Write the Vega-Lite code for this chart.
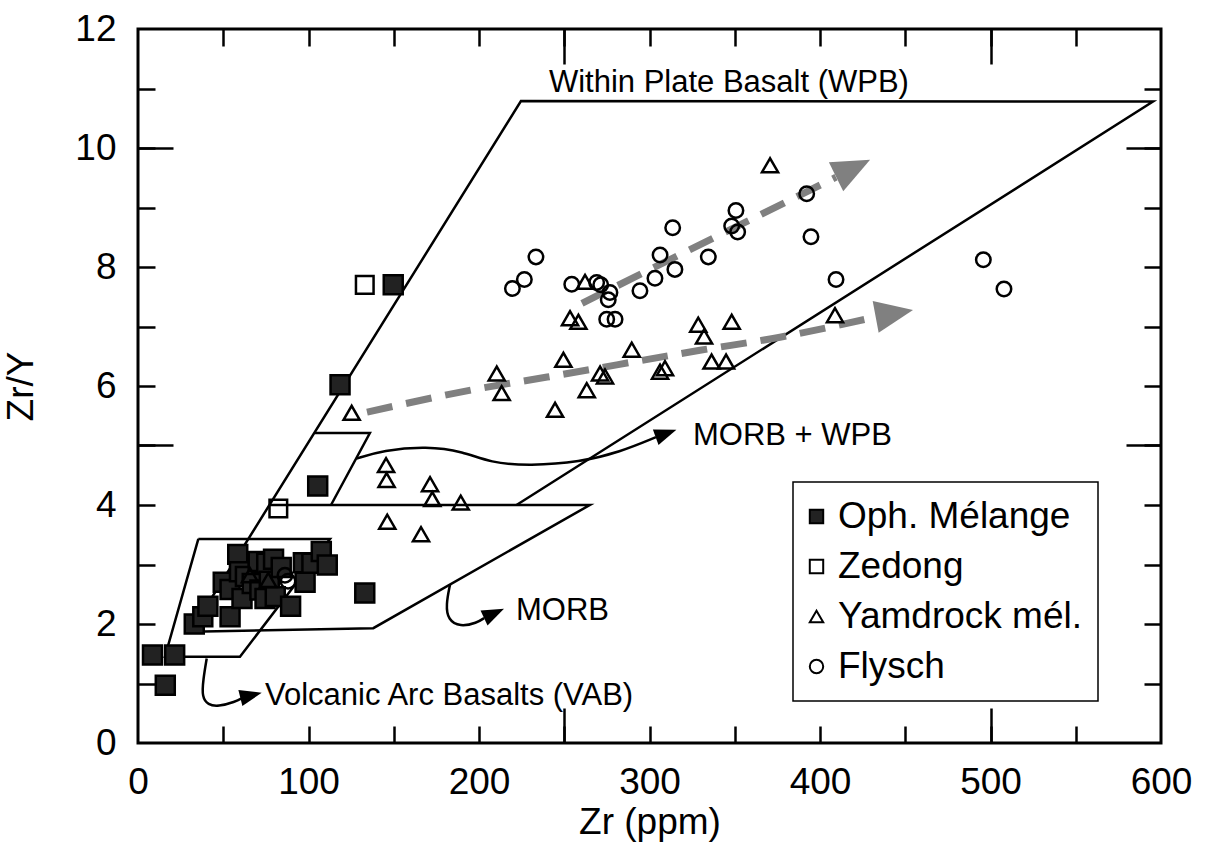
{
  "$schema": "https://vega.github.io/schema/vega-lite/v6.json",
  "width": 1023,
  "height": 714,
  "autosize": {"type": "none"},
  "padding": {"left": 138, "top": 29, "right": 47, "bottom": 114},
  "background": "white",
  "config": {
    "view": {"stroke": "black", "strokeWidth": 3},
    "font": "Liberation Sans",
    "axis": {"domain": false, "grid": false, "tickColor": "black", "tickWidth": 2.5, "labelColor": "black", "titleColor": "black", "labelFont": "Liberation Sans", "titleFont": "Liberation Sans", "titleFontWeight": "normal", "labelOverlap": false, "labelBound": false, "labelFlush": false},
    "legend": {"orient": "none", "legendX": 655, "legendY": 453, "padding": 16, "strokeColor": "black", "strokeWidth": 1.5, "fillColor": "white", "labelFont": "Liberation Sans", "labelFontSize": 37, "labelColor": "black", "labelLimit": 500, "symbolSize": 180, "symbolStrokeColor": "black", "symbolStrokeWidth": 2, "rowPadding": 12, "labelOffset": 3, "symbolOffset": -11}
  },
  "datasets": {
    "pts": [
      {"group": "Oph. Mélange", "Zr": 8.5, "ZrY": 1.48},
      {"group": "Oph. Mélange", "Zr": 21.5, "ZrY": 1.48},
      {"group": "Oph. Mélange", "Zr": 16, "ZrY": 0.97},
      {"group": "Oph. Mélange", "Zr": 33, "ZrY": 2.0},
      {"group": "Oph. Mélange", "Zr": 38, "ZrY": 2.12},
      {"group": "Oph. Mélange", "Zr": 41, "ZrY": 2.3},
      {"group": "Oph. Mélange", "Zr": 54, "ZrY": 2.12},
      {"group": "Oph. Mélange", "Zr": 50, "ZrY": 2.7},
      {"group": "Oph. Mélange", "Zr": 54, "ZrY": 2.58},
      {"group": "Oph. Mélange", "Zr": 58.5, "ZrY": 3.17},
      {"group": "Oph. Mélange", "Zr": 59.5, "ZrY": 2.88},
      {"group": "Oph. Mélange", "Zr": 61, "ZrY": 2.43},
      {"group": "Oph. Mélange", "Zr": 63, "ZrY": 2.8},
      {"group": "Oph. Mélange", "Zr": 67, "ZrY": 2.68},
      {"group": "Oph. Mélange", "Zr": 71.5, "ZrY": 2.57},
      {"group": "Oph. Mélange", "Zr": 70.5, "ZrY": 3.05},
      {"group": "Oph. Mélange", "Zr": 75.5, "ZrY": 3.02},
      {"group": "Oph. Mélange", "Zr": 77, "ZrY": 2.72},
      {"group": "Oph. Mélange", "Zr": 79.5, "ZrY": 3.09},
      {"group": "Oph. Mélange", "Zr": 74.5, "ZrY": 2.43},
      {"group": "Oph. Mélange", "Zr": 80.5, "ZrY": 2.46},
      {"group": "Oph. Mélange", "Zr": 84, "ZrY": 2.95},
      {"group": "Oph. Mélange", "Zr": 89.5, "ZrY": 2.3},
      {"group": "Oph. Mélange", "Zr": 97, "ZrY": 3.03},
      {"group": "Oph. Mélange", "Zr": 98, "ZrY": 2.7},
      {"group": "Oph. Mélange", "Zr": 102, "ZrY": 3.02},
      {"group": "Oph. Mélange", "Zr": 107.5, "ZrY": 3.22},
      {"group": "Oph. Mélange", "Zr": 111, "ZrY": 2.99},
      {"group": "Oph. Mélange", "Zr": 133, "ZrY": 2.52},
      {"group": "Oph. Mélange", "Zr": 105.4, "ZrY": 4.32},
      {"group": "Oph. Mélange", "Zr": 118.5, "ZrY": 6.02},
      {"group": "Oph. Mélange", "Zr": 149.7, "ZrY": 7.7},
      {"group": "Zedong", "Zr": 133, "ZrY": 7.7},
      {"group": "Zedong", "Zr": 82.3, "ZrY": 3.94},
      {"group": "Yamdrock mél.", "Zr": 125.3, "ZrY": 5.55},
      {"group": "Yamdrock mél.", "Zr": 145.5, "ZrY": 4.67},
      {"group": "Yamdrock mél.", "Zr": 145.8, "ZrY": 4.42},
      {"group": "Yamdrock mél.", "Zr": 171.3, "ZrY": 4.35},
      {"group": "Yamdrock mél.", "Zr": 172.6, "ZrY": 4.1},
      {"group": "Yamdrock mél.", "Zr": 189.3, "ZrY": 4.04},
      {"group": "Yamdrock mél.", "Zr": 146.2, "ZrY": 3.72},
      {"group": "Yamdrock mél.", "Zr": 166, "ZrY": 3.51},
      {"group": "Yamdrock mél.", "Zr": 65.7, "ZrY": 2.82},
      {"group": "Yamdrock mél.", "Zr": 76.4, "ZrY": 2.74},
      {"group": "Yamdrock mél.", "Zr": 370.7, "ZrY": 9.71},
      {"group": "Yamdrock mél.", "Zr": 262.2, "ZrY": 7.75},
      {"group": "Yamdrock mél.", "Zr": 253.4, "ZrY": 7.14},
      {"group": "Yamdrock mél.", "Zr": 258.3, "ZrY": 7.08},
      {"group": "Yamdrock mél.", "Zr": 210.4, "ZrY": 6.21},
      {"group": "Yamdrock mél.", "Zr": 213.3, "ZrY": 5.88},
      {"group": "Yamdrock mél.", "Zr": 249.5, "ZrY": 6.44},
      {"group": "Yamdrock mél.", "Zr": 244.6, "ZrY": 5.6},
      {"group": "Yamdrock mél.", "Zr": 263.2, "ZrY": 5.93},
      {"group": "Yamdrock mél.", "Zr": 271, "ZrY": 6.21},
      {"group": "Yamdrock mél.", "Zr": 273.9, "ZrY": 6.16},
      {"group": "Yamdrock mél.", "Zr": 289.6, "ZrY": 6.61},
      {"group": "Yamdrock mél.", "Zr": 306.2, "ZrY": 6.24},
      {"group": "Yamdrock mél.", "Zr": 309.1, "ZrY": 6.3},
      {"group": "Yamdrock mél.", "Zr": 328.6, "ZrY": 7.03},
      {"group": "Yamdrock mél.", "Zr": 332, "ZrY": 6.83},
      {"group": "Yamdrock mél.", "Zr": 348.2, "ZrY": 7.08},
      {"group": "Yamdrock mél.", "Zr": 336.4, "ZrY": 6.41},
      {"group": "Yamdrock mél.", "Zr": 344.9, "ZrY": 6.41},
      {"group": "Yamdrock mél.", "Zr": 408.8, "ZrY": 7.19},
      {"group": "Flysch", "Zr": 233.4, "ZrY": 8.17},
      {"group": "Flysch", "Zr": 226.6, "ZrY": 7.79},
      {"group": "Flysch", "Zr": 219.6, "ZrY": 7.64},
      {"group": "Flysch", "Zr": 254.4, "ZrY": 7.71},
      {"group": "Flysch", "Zr": 269, "ZrY": 7.74},
      {"group": "Flysch", "Zr": 271.4, "ZrY": 7.7},
      {"group": "Flysch", "Zr": 276.8, "ZrY": 7.57},
      {"group": "Flysch", "Zr": 275.8, "ZrY": 7.45},
      {"group": "Flysch", "Zr": 274.9, "ZrY": 7.12},
      {"group": "Flysch", "Zr": 279.8, "ZrY": 7.12},
      {"group": "Flysch", "Zr": 294.4, "ZrY": 7.6},
      {"group": "Flysch", "Zr": 303.2, "ZrY": 7.81},
      {"group": "Flysch", "Zr": 306.2, "ZrY": 8.2},
      {"group": "Flysch", "Zr": 314.9, "ZrY": 7.96},
      {"group": "Flysch", "Zr": 313.6, "ZrY": 8.66},
      {"group": "Flysch", "Zr": 334.5, "ZrY": 8.17},
      {"group": "Flysch", "Zr": 348.2, "ZrY": 8.69},
      {"group": "Flysch", "Zr": 350.7, "ZrY": 8.95},
      {"group": "Flysch", "Zr": 351.7, "ZrY": 8.59},
      {"group": "Flysch", "Zr": 392.2, "ZrY": 9.23},
      {"group": "Flysch", "Zr": 394.7, "ZrY": 8.51},
      {"group": "Flysch", "Zr": 409.4, "ZrY": 7.79},
      {"group": "Flysch", "Zr": 495.8, "ZrY": 8.12},
      {"group": "Flysch", "Zr": 507.9, "ZrY": 7.63},
      {"group": "Flysch", "Zr": 86.2, "ZrY": 2.82},
      {"group": "Flysch", "Zr": 88, "ZrY": 2.72}
    ],
    "fields": [
      {"seg": "a", "i": 1, "Zr": 30.8, "ZrY": 1.87},
      {"seg": "a", "i": 2, "Zr": 224.6, "ZrY": 10.79},
      {"seg": "a", "i": 3, "Zr": 595.3, "ZrY": 10.78},
      {"seg": "a", "i": 4, "Zr": 222, "ZrY": 4.0},
      {"seg": "b", "i": 1, "Zr": 77.4, "ZrY": 4.0},
      {"seg": "b", "i": 2, "Zr": 265, "ZrY": 4.0},
      {"seg": "b", "i": 3, "Zr": 138, "ZrY": 1.93},
      {"seg": "b", "i": 4, "Zr": 30.8, "ZrY": 1.87},
      {"seg": "c", "i": 1, "Zr": 103.8, "ZrY": 5.21},
      {"seg": "c", "i": 2, "Zr": 136, "ZrY": 5.21},
      {"seg": "c", "i": 3, "Zr": 113.2, "ZrY": 4.0},
      {"seg": "d", "i": 1, "Zr": 35.4, "ZrY": 3.43},
      {"seg": "d", "i": 2, "Zr": 112.6, "ZrY": 3.43},
      {"seg": "d", "i": 3, "Zr": 59.8, "ZrY": 1.45},
      {"seg": "d", "i": 4, "Zr": 15.8, "ZrY": 1.45},
      {"seg": "d", "i": 5, "Zr": 35.4, "ZrY": 3.43}
    ],
    "trends": [
      {"seg": "low", "i": 1, "Zr": 134.3, "ZrY": 5.56},
      {"seg": "low", "i": 2, "Zr": 200.6, "ZrY": 5.96},
      {"seg": "low", "i": 3, "Zr": 240, "ZrY": 6.15},
      {"seg": "low", "i": 4, "Zr": 329.6, "ZrY": 6.6},
      {"seg": "low", "i": 5, "Zr": 376.5, "ZrY": 6.82},
      {"seg": "low", "i": 6, "Zr": 432.6, "ZrY": 7.16},
      {"seg": "up", "i": 1, "Zr": 260.4, "ZrY": 7.39},
      {"seg": "up", "i": 2, "Zr": 409.4, "ZrY": 9.51}
    ],
    "curves": [
      {"seg": "vab", "i": 1, "Zr": 40.3, "ZrY": 1.42},
      {"seg": "vab", "i": 2, "Zr": 38.2, "ZrY": 1.06},
      {"seg": "vab", "i": 3, "Zr": 37.5, "ZrY": 0.77},
      {"seg": "vab", "i": 4, "Zr": 41.1, "ZrY": 0.64},
      {"seg": "vab", "i": 5, "Zr": 46.9, "ZrY": 0.61},
      {"seg": "vab", "i": 6, "Zr": 56.9, "ZrY": 0.69},
      {"seg": "vab", "i": 7, "Zr": 61.5, "ZrY": 0.76},
      {"seg": "morb", "i": 1, "Zr": 183, "ZrY": 2.66},
      {"seg": "morb", "i": 2, "Zr": 180.6, "ZrY": 2.32},
      {"seg": "morb", "i": 3, "Zr": 181.8, "ZrY": 2.07},
      {"seg": "morb", "i": 4, "Zr": 188.9, "ZrY": 1.95},
      {"seg": "morb", "i": 5, "Zr": 198.8, "ZrY": 2.02},
      {"seg": "morb", "i": 6, "Zr": 203, "ZrY": 2.1},
      {"seg": "mw", "i": 1, "Zr": 128.1, "ZrY": 4.78},
      {"seg": "mw", "i": 2, "Zr": 143.7, "ZrY": 4.92},
      {"seg": "mw", "i": 3, "Zr": 169.3, "ZrY": 4.99},
      {"seg": "mw", "i": 4, "Zr": 190.8, "ZrY": 4.9},
      {"seg": "mw", "i": 5, "Zr": 206.5, "ZrY": 4.71},
      {"seg": "mw", "i": 6, "Zr": 229.9, "ZrY": 4.66},
      {"seg": "mw", "i": 7, "Zr": 259.2, "ZrY": 4.72},
      {"seg": "mw", "i": 8, "Zr": 282.7, "ZrY": 4.89},
      {"seg": "mw", "i": 9, "Zr": 303.8, "ZrY": 5.14}
    ],
    "notes": [
      {"label": "Within Plate Basalt (WPB)", "Zr": 241, "ZrY": 10.94},
      {"label": "MORB + WPB", "Zr": 325.5, "ZrY": 5.01},
      {"label": "MORB", "Zr": 221.7, "ZrY": 2.07},
      {"label": "Volcanic Arc Basalts (VAB)", "Zr": 74.5, "ZrY": 0.64}
    ]
  },
  "resolve": {"axis": {"x": "independent", "y": "independent"}},
  "layer": [
    {
      "data": {"name": "fields"},
      "mark": {"type": "line", "color": "black", "strokeWidth": 2.5, "strokeJoin": "miter"},
      "encoding": {
        "x": {"field": "Zr", "type": "quantitative", "scale": {"domain": [0, 600], "nice": false, "zero": false},
              "axis": {"orient": "bottom", "values": [0, 100, 200, 300, 400, 500, 600], "ticks": false, "labelFontSize": 37, "labelPadding": 21, "title": "Zr (ppm)", "titleFontSize": 37, "titlePadding": 4}},
        "y": {"field": "ZrY", "type": "quantitative", "scale": {"domain": [0, 12], "nice": false, "zero": false},
              "axis": {"orient": "left", "values": [0, 2, 4, 6, 8, 10, 12], "ticks": false, "labelFontSize": 37, "labelPadding": 22, "title": "Zr/Y", "titleFontSize": 37, "titlePadding": 34}},
        "detail": {"field": "seg", "type": "nominal"},
        "order": {"field": "i", "type": "quantitative"}
      }
    },
    {
      "data": {"name": "trends"},
      "mark": {"type": "line", "color": "#808080", "strokeWidth": 7, "strokeDash": [26, 14], "interpolate": "monotone"},
      "encoding": {
        "x": {"field": "Zr", "type": "quantitative", "axis": {"orient": "bottom", "values": [50, 100, 150, 200, 250, 300, 350, 400, 450, 500, 550], "labels": false, "title": null, "tickSize": -17}},
        "y": {"field": "ZrY", "type": "quantitative", "axis": {"orient": "left", "values": [1, 2, 3, 4, 5, 6, 7, 8, 9, 10, 11], "labels": false, "title": null, "tickSize": -17}},
        "detail": {"field": "seg", "type": "nominal"},
        "order": {"field": "i", "type": "quantitative"}
      }
    },
    {
      "data": {"name": "curves"},
      "mark": {"type": "line", "color": "black", "strokeWidth": 2.5, "interpolate": "basis"},
      "encoding": {
        "x": {"field": "Zr", "type": "quantitative", "axis": {"orient": "top", "values": [50, 100, 150, 200, 250, 300, 350, 400, 450, 500, 550], "labels": false, "title": null, "tickSize": -17}},
        "y": {"field": "ZrY", "type": "quantitative", "axis": {"orient": "right", "values": [1, 2, 3, 4, 5, 6, 7, 8, 9, 10, 11], "labels": false, "title": null, "tickSize": -17}},
        "detail": {"field": "seg", "type": "nominal"},
        "order": {"field": "i", "type": "quantitative"}
      }
    },
    {
      "data": {"name": "pts"},
      "mark": {"type": "point", "stroke": "black", "strokeWidth": 2.5, "opacity": 1},
      "encoding": {
        "x": {"field": "Zr", "type": "quantitative", "axis": {"orient": "bottom", "values": [250, 500], "labels": false, "title": null, "tickSize": -35}},
        "y": {"field": "ZrY", "type": "quantitative", "axis": {"orient": "left", "values": [5, 10], "labels": false, "title": null, "tickSize": -35}},
        "shape": {"field": "group", "type": "nominal", "scale": {"domain": ["Oph. Mélange", "Zedong", "Yamdrock mél.", "Flysch"], "range": ["square", "square", "triangle-up", "circle"]}, "legend": {"title": null, "symbolStrokeColor": "black", "symbolStrokeWidth": 2}},
        "fill": {"field": "group", "type": "nominal", "scale": {"domain": ["Oph. Mélange", "Zedong", "Yamdrock mél.", "Flysch"], "range": ["#222222", "transparent", "transparent", "transparent"]}, "legend": {"title": null, "symbolStrokeColor": "black", "symbolStrokeWidth": 2}},
        "stroke": {"field": "group", "type": "nominal", "scale": {"domain": ["Oph. Mélange", "Zedong", "Yamdrock mél.", "Flysch"], "range": ["black", "black", "black", "black"]}, "legend": {"title": null, "symbolStrokeColor": "black", "symbolStrokeWidth": 2}},
        "size": {"field": "group", "type": "nominal", "scale": {"domain": ["Flysch", "Yamdrock mél.", "Zedong", "Oph. Mélange"], "range": [210, 360, 250, 250]}, "legend": null}
      }
    },
    {
      "data": {"name": "notes"},
      "mark": {"type": "text", "align": "left", "baseline": "alphabetic", "fontSize": 31, "font": "Liberation Sans", "color": "black"},
      "encoding": {
        "x": {"field": "Zr", "type": "quantitative", "axis": {"orient": "top", "values": [250, 500], "labels": false, "title": null, "tickSize": -35}},
        "y": {"field": "ZrY", "type": "quantitative", "axis": {"orient": "right", "values": [5, 10], "labels": false, "title": null, "tickSize": -35}},
        "text": {"field": "label", "type": "nominal"}
      }
    },
    {
      "data": {"values": [{"Zr": 443.6, "ZrY": 7.22}]},
      "mark": {"type": "point", "shape": "M1,0L-1,-0.85L-1,0.85Z", "size": 1444, "angle": 349.4, "filled": true, "color": "#808080", "opacity": 1, "strokeWidth": 0},
      "encoding": {"x": {"field": "Zr", "type": "quantitative", "axis": null}, "y": {"field": "ZrY", "type": "quantitative", "axis": null}}
    },
    {
      "data": {"values": [{"Zr": 419.4, "ZrY": 9.66}]},
      "mark": {"type": "point", "shape": "M1,0L-1,-0.85L-1,0.85Z", "size": 1444, "angle": 333.6, "filled": true, "color": "#808080", "opacity": 1, "strokeWidth": 0},
      "encoding": {"x": {"field": "Zr", "type": "quantitative", "axis": null}, "y": {"field": "ZrY", "type": "quantitative", "axis": null}}
    },
    {
      "data": {"values": [{"Zr": 66.3, "ZrY": 0.8}]},
      "mark": {"type": "point", "shape": "M1,0L-1,-0.75L-1,0.75Z", "size": 484, "angle": 346, "filled": true, "color": "black", "opacity": 1, "strokeWidth": 0},
      "encoding": {"x": {"field": "Zr", "type": "quantitative", "axis": null}, "y": {"field": "ZrY", "type": "quantitative", "axis": null}}
    },
    {
      "data": {"values": [{"Zr": 208.8, "ZrY": 2.18}]},
      "mark": {"type": "point", "shape": "M1,0L-1,-0.75L-1,0.75Z", "size": 484, "angle": 335, "filled": true, "color": "black", "opacity": 1, "strokeWidth": 0},
      "encoding": {"x": {"field": "Zr", "type": "quantitative", "axis": null}, "y": {"field": "ZrY", "type": "quantitative", "axis": null}}
    },
    {
      "data": {"values": [{"Zr": 309.7, "ZrY": 5.2}]},
      "mark": {"type": "point", "shape": "M1,0L-1,-0.75L-1,0.75Z", "size": 484, "angle": 340, "filled": true, "color": "black", "opacity": 1, "strokeWidth": 0},
      "encoding": {"x": {"field": "Zr", "type": "quantitative", "axis": null}, "y": {"field": "ZrY", "type": "quantitative", "axis": null}}
    }
  ]
}
